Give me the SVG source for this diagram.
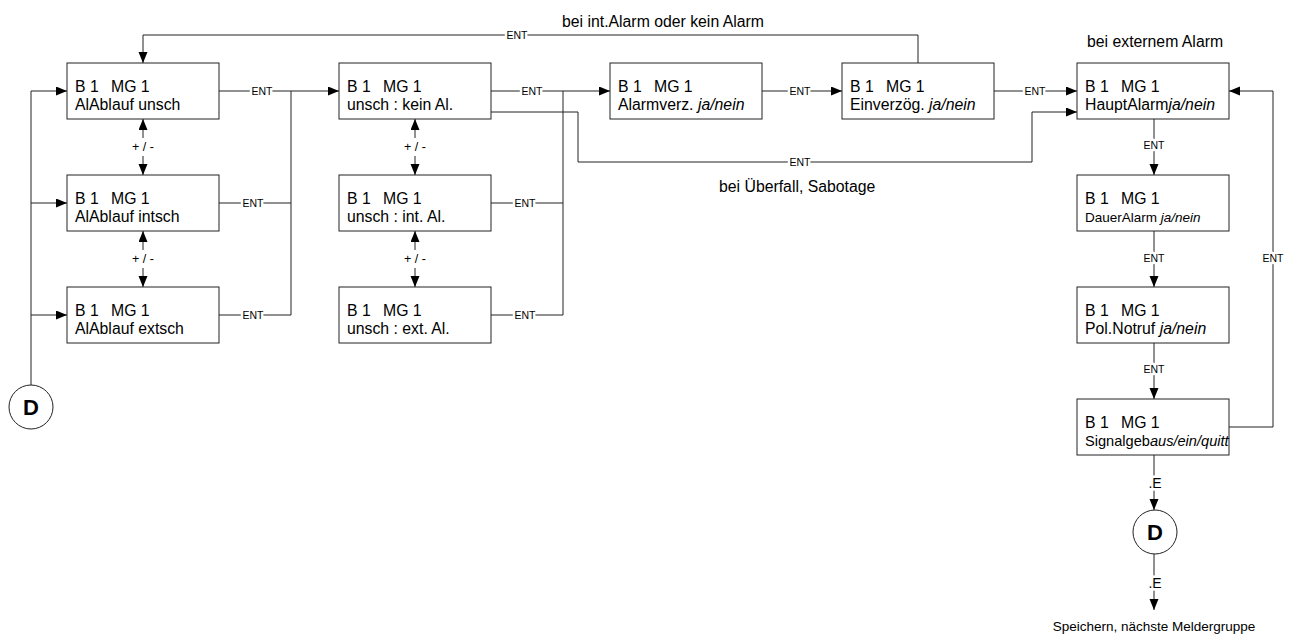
<svg xmlns="http://www.w3.org/2000/svg" width="1290" height="637" viewBox="0 0 1290 637">
  <style>
    text { font-family: "Liberation Sans", Arial, sans-serif; fill: #000; }
    .box { fill: #fff; stroke: #222; stroke-width: 1; }
    .t { font-size: 15.8px; }
    .ts { font-size: 13.5px; }
    .it { font-style: italic; }
    .wire { fill: none; stroke: #222; stroke-width: 1; }
    .arr { marker-end: url(#ah); }
    .lbl { font-size: 10.5px; text-anchor: middle; paint-order: stroke; stroke: #fff; stroke-width: 5px; stroke-linejoin: round; }
    .pm { font-size: 12.5px; text-anchor: middle; }
    .dE { font-size: 14px; text-anchor: middle; paint-order: stroke; stroke: #fff; stroke-width: 5px; }
    .note { font-size: 15.8px; }
    .circ { fill: #fff; stroke: #222; stroke-width: 1; }
    .D { font-size: 22px; font-weight: bold; text-anchor: middle; }
  </style>
  <defs>
    <marker id="ah" markerUnits="userSpaceOnUse" markerWidth="12" markerHeight="10" refX="11" refY="4.5" orient="auto">
      <path d="M0,0 L11,4.5 L0,9 z" fill="#000"/>
    </marker>
  </defs>

  <rect width="1290" height="637" fill="#fff"/>

  <!-- connectors -->
  <g id="connectors">
    <!-- entry bus from D -->
    <path class="wire" d="M31,385 V91"/>
    <path class="wire arr" d="M31,91 H67"/>
    <path class="wire arr" d="M31,203 H67"/>
    <path class="wire arr" d="M31,315 H67"/>

    <!-- left column: ENT outputs -->
    <path class="wire" d="M219,91 H291 M219,203 H291 M219,315 H291 M291,91 V315"/>
    <path class="wire arr" d="M291,91 H339"/>

    <!-- middle column: ENT outputs -->
    <path class="wire" d="M491,91 H563 M491,203 H563 M491,315 H563 M563,91 V315"/>
    <path class="wire arr" d="M563,91 H610"/>

    <!-- Ueberfall / Sabotage branch -->
    <path class="wire" d="M491,112 H578 V162 H1032 V112"/>
    <path class="wire arr" d="M1032,112 H1077"/>

    <!-- main chain -->
    <path class="wire arr" d="M762,91 H842"/>
    <path class="wire arr" d="M994,91 H1077"/>

    <!-- return to start -->
    <path class="wire" d="M918,63 V35 H143"/>
    <path class="wire arr" d="M143,35 V63"/>

    <!-- right column -->
    <path class="wire arr" d="M1154,119 V175"/>
    <path class="wire arr" d="M1154,231 V287"/>
    <path class="wire arr" d="M1154,343 V399"/>
    <path class="wire" d="M1229,427 H1273 V91"/>
    <path class="wire arr" d="M1273,91 H1229"/>
    <path class="wire arr" d="M1154,455 V510"/>
    <path class="wire arr" d="M1154,554 V610"/>

    <!-- +/- toggles -->
    <path class="wire arr" d="M143,138 V119"/>
    <path class="wire arr" d="M143,156 V175"/>
    <path class="wire arr" d="M143,250 V231"/>
    <path class="wire arr" d="M143,268 V287"/>
    <path class="wire arr" d="M415,138 V119"/>
    <path class="wire arr" d="M415,156 V175"/>
    <path class="wire arr" d="M415,250 V231"/>
    <path class="wire arr" d="M415,268 V287"/>

    <!-- labels -->
    <text class="lbl" x="262" y="95">ENT</text>
    <text class="lbl" x="253" y="207">ENT</text>
    <text class="lbl" x="253" y="319">ENT</text>
    <text class="lbl" x="532" y="95">ENT</text>
    <text class="lbl" x="525" y="207">ENT</text>
    <text class="lbl" x="525" y="319">ENT</text>
    <text class="lbl" x="800" y="95">ENT</text>
    <text class="lbl" x="1035" y="95">ENT</text>
    <text class="lbl" x="800" y="166">ENT</text>
    <text class="lbl" x="517" y="39">ENT</text>
    <text class="lbl" x="1154" y="149">ENT</text>
    <text class="lbl" x="1154" y="262">ENT</text>
    <text class="lbl" x="1154" y="373">ENT</text>
    <text class="lbl" x="1273" y="262">ENT</text>
    <text class="dE" x="1155" y="488">.E</text>
    <text class="dE" x="1155" y="588">.E</text>
    <text class="pm" x="143" y="151">+ / -</text>
    <text class="pm" x="143" y="263">+ / -</text>
    <text class="pm" x="415" y="151">+ / -</text>
    <text class="pm" x="415" y="263">+ / -</text>

    <text class="note" x="562" y="27">bei int.Alarm oder kein Alarm</text>
    <text class="note" x="1087" y="47">bei externem Alarm</text>
    <text class="note" x="719" y="192">bei Überfall, Sabotage</text>
    <text class="ts" x="1154" y="631" text-anchor="middle">Speichern, nächste Meldergruppe</text>
  </g>

  <!-- left column -->
  <g id="n-ablauf-unsch">
    <rect class="box" x="67" y="63" width="152" height="56"/>
    <text class="t" y="91.5"><tspan x="75">B 1</tspan><tspan x="111">MG 1</tspan></text>
    <text class="t" x="75" y="110">AlAblauf unsch</text>
  </g>
  <g id="n-ablauf-intsch">
    <rect class="box" x="67" y="175" width="152" height="56"/>
    <text class="t" y="203.5"><tspan x="75">B 1</tspan><tspan x="111">MG 1</tspan></text>
    <text class="t" x="75" y="222">AlAblauf intsch</text>
  </g>
  <g id="n-ablauf-extsch">
    <rect class="box" x="67" y="287" width="152" height="56"/>
    <text class="t" y="315.5"><tspan x="75">B 1</tspan><tspan x="111">MG 1</tspan></text>
    <text class="t" x="75" y="334">AlAblauf extsch</text>
  </g>

  <!-- middle column -->
  <g id="n-unsch-kein">
    <rect class="box" x="339" y="63" width="152" height="56"/>
    <text class="t" y="91.5"><tspan x="347">B 1</tspan><tspan x="383">MG 1</tspan></text>
    <text class="t" x="347" y="110">unsch : kein Al.</text>
  </g>
  <g id="n-unsch-int">
    <rect class="box" x="339" y="175" width="152" height="56"/>
    <text class="t" y="203.5"><tspan x="347">B 1</tspan><tspan x="383">MG 1</tspan></text>
    <text class="t" x="347" y="222">unsch : int. Al.</text>
  </g>
  <g id="n-unsch-ext">
    <rect class="box" x="339" y="287" width="152" height="56"/>
    <text class="t" y="315.5"><tspan x="347">B 1</tspan><tspan x="383">MG 1</tspan></text>
    <text class="t" x="347" y="334">unsch : ext. Al.</text>
  </g>

  <!-- chain -->
  <g id="n-alarmverz">
    <rect class="box" x="610" y="63" width="152" height="56"/>
    <text class="t" y="91.5"><tspan x="618">B 1</tspan><tspan x="654">MG 1</tspan></text>
    <text class="t" x="618" y="110">Alarmverz. <tspan class="it">ja/nein</tspan></text>
  </g>
  <g id="n-einverzoeg">
    <rect class="box" x="842" y="63" width="152" height="56"/>
    <text class="t" y="91.5"><tspan x="850">B 1</tspan><tspan x="886">MG 1</tspan></text>
    <text class="t" x="850" y="110">Einverzög. <tspan class="it">ja/nein</tspan></text>
  </g>

  <!-- right column -->
  <g id="n-hauptalarm">
    <rect class="box" x="1077" y="63" width="152" height="56"/>
    <text class="t" y="91.5"><tspan x="1085">B 1</tspan><tspan x="1121">MG 1</tspan></text>
    <text class="t" x="1085" y="110">HauptAlarm<tspan class="it">ja/nein</tspan></text>
  </g>
  <g id="n-daueralarm">
    <rect class="box" x="1077" y="175" width="152" height="56"/>
    <text class="t" y="203.5"><tspan x="1085">B 1</tspan><tspan x="1121">MG 1</tspan></text>
    <text class="ts" x="1085" y="222">DauerAlarm <tspan class="it">ja/nein</tspan></text>
  </g>
  <g id="n-polnotruf">
    <rect class="box" x="1077" y="287" width="152" height="56"/>
    <text class="t" y="315.5"><tspan x="1085">B 1</tspan><tspan x="1121">MG 1</tspan></text>
    <text class="t" x="1085" y="334">Pol.Notruf <tspan class="it">ja/nein</tspan></text>
  </g>
  <g id="n-signalgeb">
    <rect class="box" x="1077" y="399" width="152" height="56"/>
    <text class="t" y="427.5"><tspan x="1085">B 1</tspan><tspan x="1121">MG 1</tspan></text>
    <text class="ts" x="1085" y="446" style="font-size:14.6px">Signalgeb<tspan class="it">aus/ein/quitt</tspan></text>
  </g>

  <!-- D connectors -->
  <g id="n-d-start">
    <circle class="circ" cx="31" cy="407" r="22"/>
    <text class="D" x="31" y="415">D</text>
  </g>
  <g id="n-d-end">
    <circle class="circ" cx="1155" cy="532" r="22"/>
    <text class="D" x="1155" y="540">D</text>
  </g>
</svg>
